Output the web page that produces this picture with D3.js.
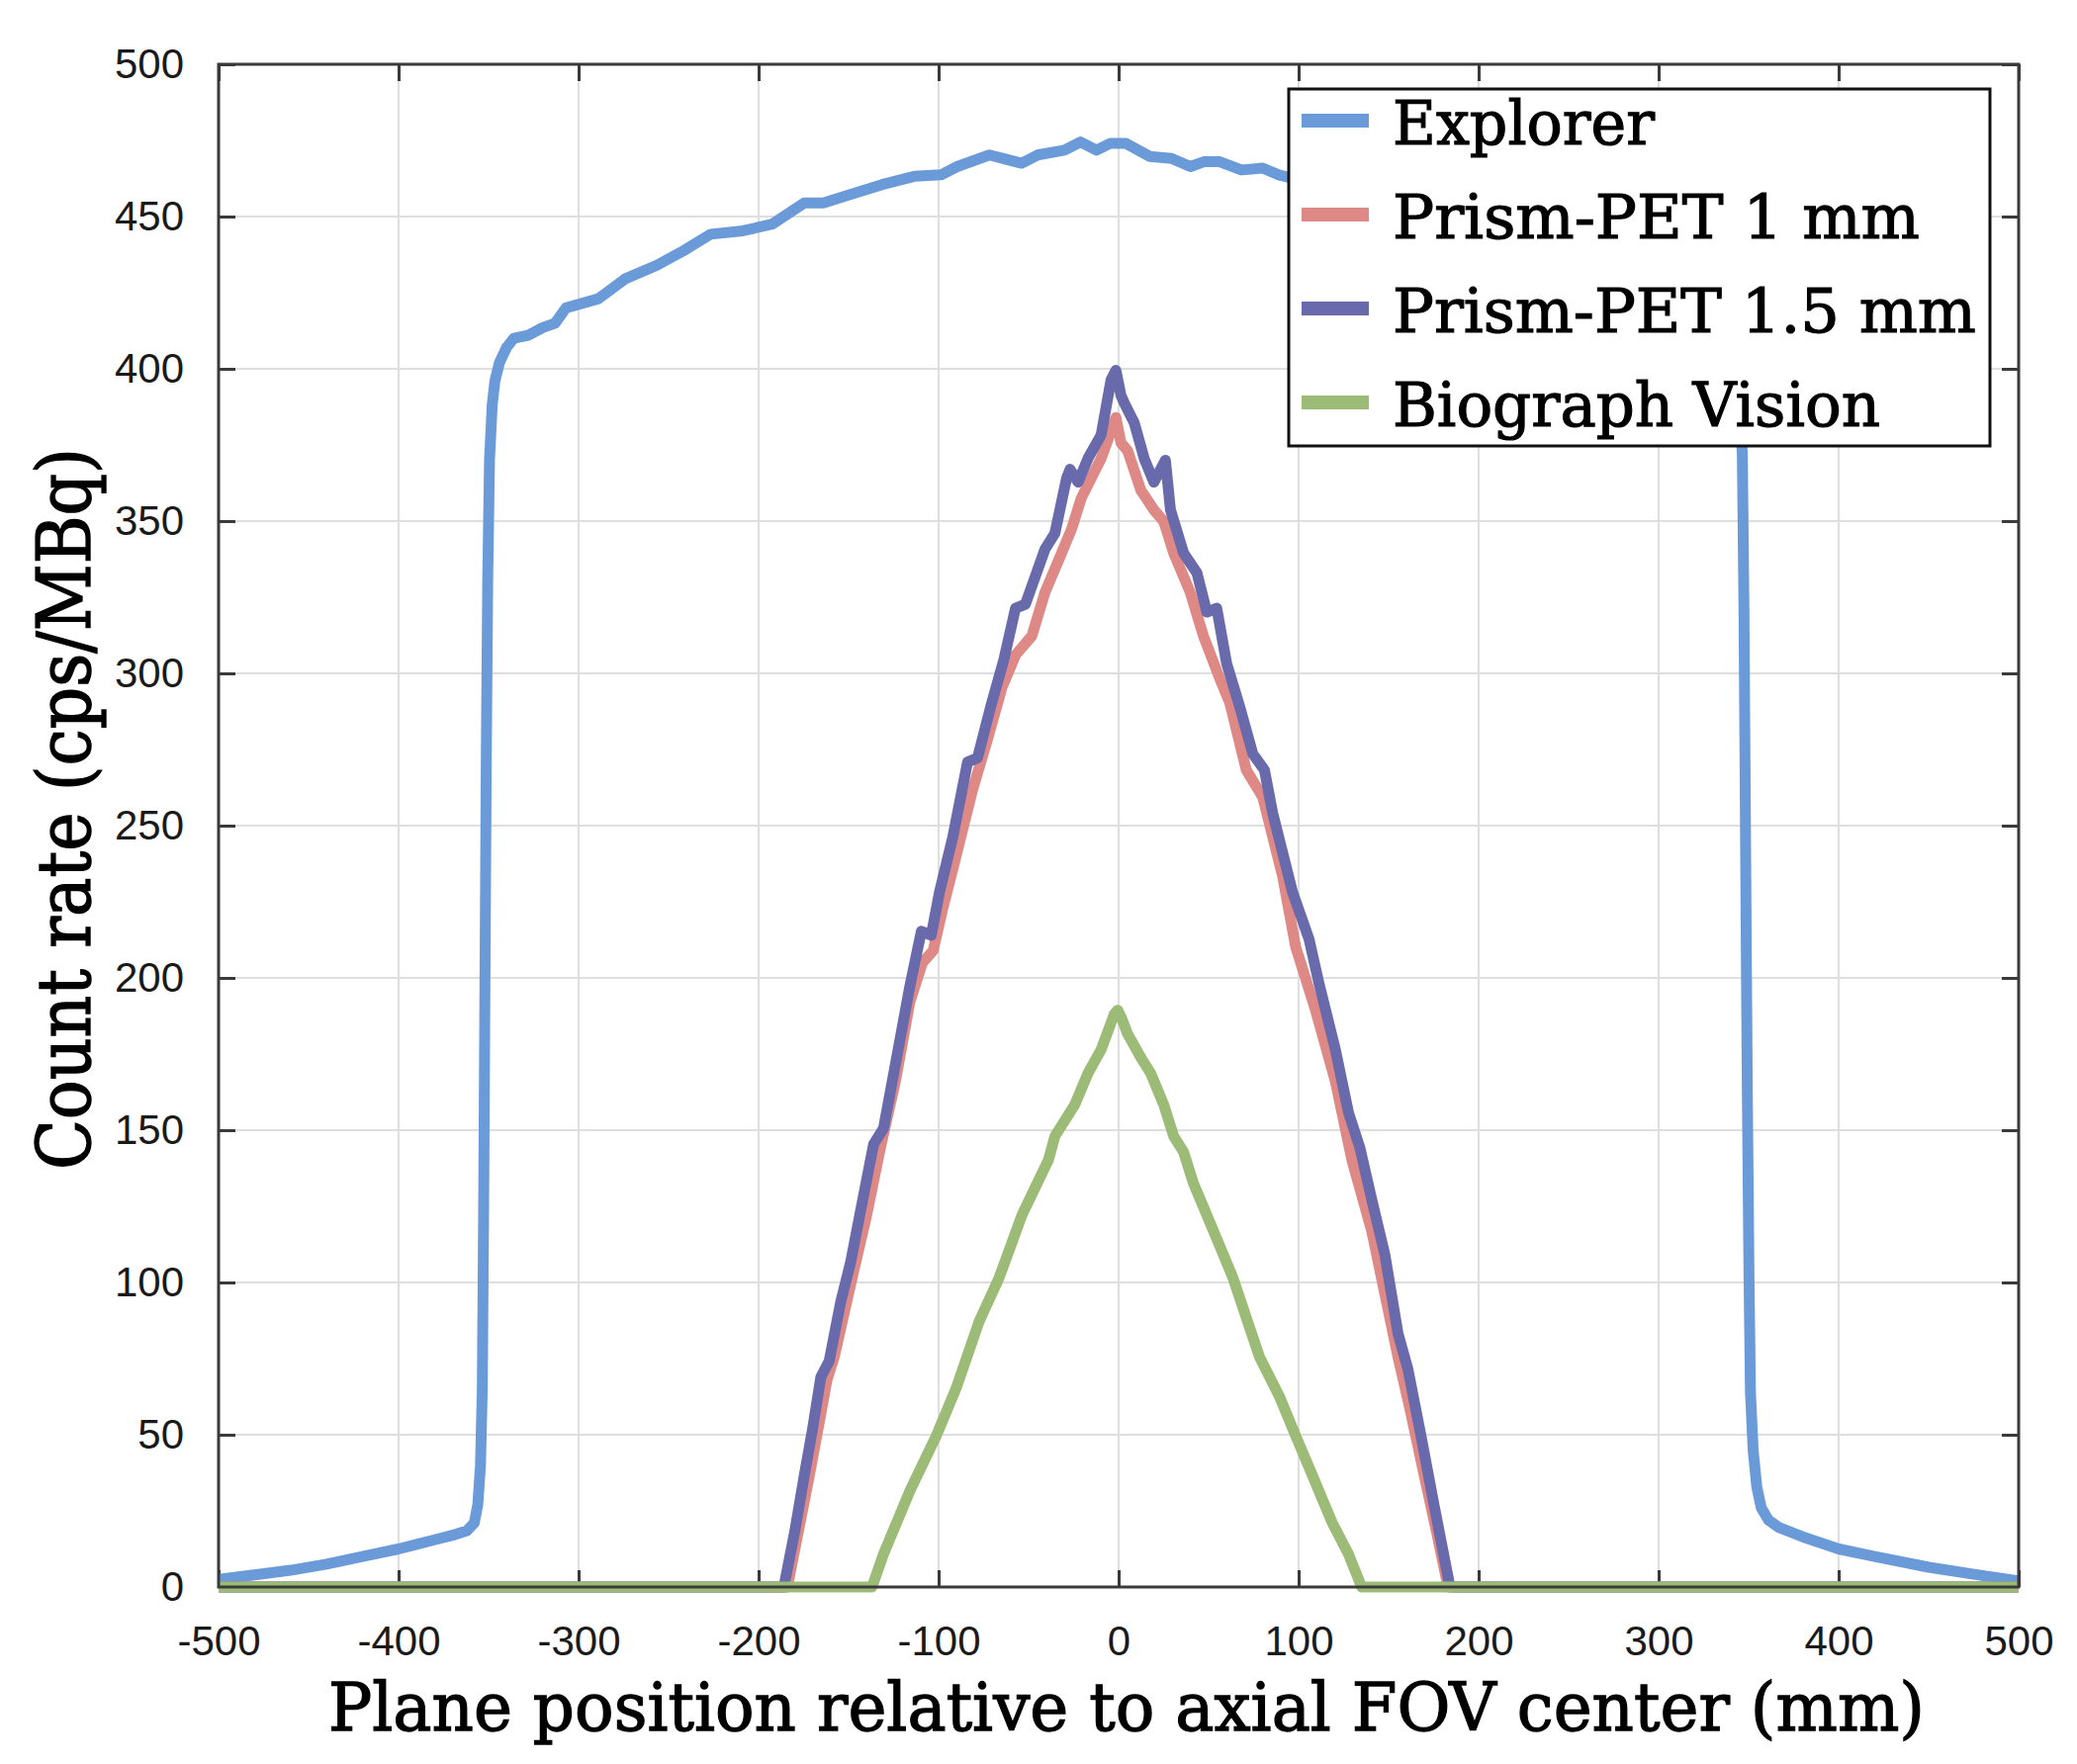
<!DOCTYPE html>
<html>
<head>
<meta charset="utf-8">
<script src="https://cdn.jsdelivr.net/npm/d3@7"></script>
<style>
  html, body { margin: 0; padding: 0; background: #fff; }
  svg { display: block; }
</style>
</head>
<body>
<svg id="chart" width="2100" height="1784"></svg>
<script>
// ---------------- DATA ----------------
const xTicks = [-500, -400, -300, -200, -100, 0, 100, 200, 300, 400, 500];
const yTicks = [0, 50, 100, 150, 200, 250, 300, 350, 400, 450, 500];

const seriesNames = ["Explorer", "Prism-PET 1 mm", "Prism-PET 1.5 mm", "Biograph Vision"];
const seriesColors = ["#6a9ad8", "#de8986", "#686aac", "#9cbb76"];

const explorerX = [-500,-480,-460,-440,-420,-400,-390,-380,-370,-362,-358,-356,-354.5,-353.5,-352.8,-352,-351.3,-350.5,-349.5,-348,-346.5,-344,-340,-336,-328,-320,-313,-307,-289,-274,-256.5,-241.6,-226.7,-208.8,-192.4,-174.5,-164,-149.2,-131.4,-113.5,-98.6,-89.7,-71.8,-53.9,-45,-30.1,-21.2,-12.3,-4.8,4.1,17.5,29.4,39.9,47.3,56.2,68.2,80,89,100,130,160,200,240,280,310,330,340,344,346.5,347.4,348.3,349.2,350.2,351,352.5,354.5,357,361,367,380,400,420,450,477,500];
const explorerY = [2.5,4,5.5,7.5,10,12.5,14,15.5,17,18.5,21,27,40,65,120,200,270,330,370,388,396,402,407,410,411,413.5,415,420,423,429.6,434,438.8,444.2,445.3,447.5,454.5,454.5,457.2,460.5,463.2,463.7,466.4,470.2,467.5,470.2,471.8,474.5,471.8,474,474,469.7,469.1,466.4,468,468,465.3,465.9,463.7,462,458,455,447,440,430,420,413,408,400,372,321,244,167,102,64,45,33,26,22,19.5,16.5,12.5,10,6.5,4,2];

const prism1X = [-500,-184,-178,-172,-166,-162,-158,-149,-140,-132.4,-124,-116,-109,-103,-98,-92,-81,-73,-64.7,-57.3,-48.2,-40.9,-31.7,-26.2,-20.7,-9.7,-1.5,1.3,5,12.3,19.6,25.1,30.6,39.8,47.1,56.3,61.8,70.9,80.1,91.1,98.4,109.4,120.4,129.6,140.6,155.2,162,170,177,183,500];
const prism1Y = [0,0,18,36,55,68,75.5,99,122,144,166,192,205,209,222,236,262,278,295.5,306,312.3,326.6,339.5,347.3,357.6,370.6,384,375.7,373.1,360.2,353.7,349.9,339.5,326.6,312.3,298.1,290.3,268.3,259.3,233.4,210.1,189.4,166.1,140.2,116.9,75.5,58,36,17,0,0];

const prism15X = [-500,-186,-180,-174.6,-170,-165.4,-160.8,-154.4,-148.9,-143.4,-136.1,-130.6,-123.3,-116,-109.6,-104.1,-99.5,-92.1,-83.9,-78.4,-71.1,-63.7,-57.3,-51.8,-40.9,-35.4,-28.9,-27,-22.5,-17,-9.7,-4.2,-1.5,1.3,3.2,8.7,14.2,19.6,25.1,26,28.8,36.1,43.5,49,54.5,60,67.3,74.6,81,85.6,96.6,105.8,111.2,120.4,127.7,134.1,140.6,147.9,155.2,160.7,168,175.4,183.6,185,500];
const prism15Y = [0,0,18,36.7,52,69,74.2,93.6,106.6,123.4,145.4,150.6,173.9,197.2,215.3,214,228.2,246.3,270.9,272.2,289,304.6,321.4,322.7,340.8,346,364.1,367,362.8,370.6,378.3,396.4,399.5,391.3,388.7,382.2,370.6,362.8,369,370,353.7,339.5,333,320.1,321.4,303.3,289,273.5,268.3,254.1,228.2,212.7,198.5,176.5,155.8,144.1,127.3,109.2,83.3,71.6,49.6,26.4,1.5,0,0];

const biographX = [-500,-137,-130.6,-116,-101.3,-90.3,-77.5,-66.5,-53.7,-39,-35.4,-24.4,-17,-9.7,-2.4,-0.5,1.5,5,12.3,17.8,25.1,30.6,36.1,41.6,49,56.3,63.6,70.9,78.3,89.3,98.4,107.6,118.6,127.7,135,500];
const biographY = [0,0,10.8,31.5,49.6,65.2,87.2,101.4,122.1,140.2,148,158.3,168.7,176.5,188.1,189.4,187,181.6,173.9,168.7,158.3,148,142.8,132.5,122.1,111.8,101.4,88.5,75.5,62.6,49.6,36.7,21.2,10.8,0,0];

// ---------------- LAYOUT ----------------
const W = 2100, H = 1784;
const plot = { left: 221, right: 2041, top: 65, bottom: 1605 };
const svg = d3.select("#chart");
svg.append("rect").attr("width", W).attr("height", H).attr("fill", "#fff");

const x = d3.scaleLinear().domain([-500, 500]).range([plot.left, plot.right]);
const y = d3.scaleLinear().domain([0, 500]).range([plot.bottom, plot.top]);

const axisColor = "#3a3a3a";
const gridColor = "#dedede";
const tickLen = 17;

// grid
const grid = svg.append("g");
grid.selectAll(".vg").data(xTicks.slice(1, -1)).join("line")
  .attr("x1", d => x(d)).attr("x2", d => x(d))
  .attr("y1", plot.top).attr("y2", plot.bottom)
  .attr("stroke", gridColor).attr("stroke-width", 2);
grid.selectAll(".hg").data(yTicks.slice(1, -1)).join("line")
  .attr("y1", d => y(d)).attr("y2", d => y(d))
  .attr("x1", plot.left).attr("x2", plot.right)
  .attr("stroke", gridColor).attr("stroke-width", 2);

// axes via d3 axes (inside ticks), labels on left & bottom
const fontTick = "'Liberation Sans', Arial, Helvetica, sans-serif";
const styleAxis = g => {
  g.select(".domain").remove();
  g.selectAll(".tick line").attr("stroke", axisColor).attr("stroke-width", 3);
  g.selectAll(".tick text").attr("fill", "#1a1a1a").style("font-family", fontTick).style("font-size", "42px");
};

svg.append("g").attr("transform", `translate(0,${plot.bottom})`)
  .call(d3.axisBottom(x).tickValues(xTicks).tickSize(-tickLen).tickPadding(tickLen + 22).tickFormat(d3.format("d")))
  .call(styleAxis);
svg.append("g").attr("transform", `translate(0,${plot.top})`)
  .call(d3.axisTop(x).tickValues(xTicks).tickSize(-tickLen).tickFormat(""))
  .call(styleAxis);
svg.append("g").attr("transform", `translate(${plot.left},0)`)
  .call(d3.axisLeft(y).tickValues(yTicks).tickSize(-tickLen).tickPadding(tickLen + 18).tickFormat(d3.format("d")))
  .call(styleAxis);
svg.append("g").attr("transform", `translate(${plot.right},0)`)
  .call(d3.axisRight(y).tickValues(yTicks).tickSize(-tickLen).tickFormat(""))
  .call(styleAxis);

// hyphen-minus like MATLAB
svg.selectAll(".tick text").text(function() { return this.textContent.replace("\u2212", "-"); });

// lines
const line = d3.line().x(d => x(d[0])).y(d => y(d[1]));
const zip = (a, b) => a.map((v, i) => [v, b[i]]);
const series = [
  zip(explorerX, explorerY),
  zip(prism1X, prism1Y),
  zip(prism15X, prism15Y),
  zip(biographX, biographY)
];
svg.append("clipPath").attr("id", "clip").append("rect")
  .attr("x", plot.left).attr("y", plot.top - 10)
  .attr("width", plot.right - plot.left).attr("height", plot.bottom - plot.top + 20);
const lines = svg.append("g").attr("clip-path", "url(#clip)");
series.forEach((s, i) => {
  lines.append("path").datum(s).attr("d", line)
    .attr("fill", "none").attr("stroke", seriesColors[i])
    .attr("stroke-width", 11).attr("stroke-linejoin", "round").attr("stroke-linecap", "butt");
});

// box
svg.append("rect").attr("x", plot.left).attr("y", plot.top)
  .attr("width", plot.right - plot.left).attr("height", plot.bottom - plot.top)
  .attr("fill", "none").attr("stroke", axisColor).attr("stroke-width", 3);

// legend
const serif = "'DejaVu Serif', 'Liberation Serif', serif";
const leg = { x: 1303, y: 90, w: 709, h: 361 };
svg.append("rect").attr("x", leg.x).attr("y", leg.y).attr("width", leg.w).attr("height", leg.h)
  .attr("fill", "#fff").attr("stroke", "#111").attr("stroke-width", 3);
const legWidths = [265, 533, 590, 493];
seriesNames.forEach((name, i) => {
  const cy = 122 + i * 95;
  svg.append("line").attr("x1", 1316).attr("x2", 1384).attr("y1", cy).attr("y2", cy)
    .attr("stroke", seriesColors[i]).attr("stroke-width", 14);
  svg.append("text").attr("x", 1408).attr("y", cy + 24)
    .attr("textLength", legWidths[i]).attr("lengthAdjust", "spacingAndGlyphs")
    .style("font-family", serif).style("font-size", "62px").attr("fill", "#000")
    .attr("stroke", "#000").attr("stroke-width", 1.2)
    .text(name);
});

// axis titles
svg.append("text").attr("x", 1139).attr("y", 1750).attr("text-anchor", "middle")
  .attr("textLength", 1614).attr("lengthAdjust", "spacingAndGlyphs")
  .style("font-family", serif).style("font-size", "68px").attr("fill", "#000")
  .attr("stroke", "#000").attr("stroke-width", 1.3)
  .text("Plane position relative to axial FOV center (mm)");
svg.append("text").attr("transform", "translate(91,818) rotate(-90)").attr("text-anchor", "middle")
  .attr("textLength", 730).attr("lengthAdjust", "spacingAndGlyphs")
  .style("font-family", serif).style("font-size", "74px").attr("fill", "#000")
  .attr("stroke", "#000").attr("stroke-width", 1.4)
  .text("Count rate (cps/MBq)");
</script>
</body>
</html>
